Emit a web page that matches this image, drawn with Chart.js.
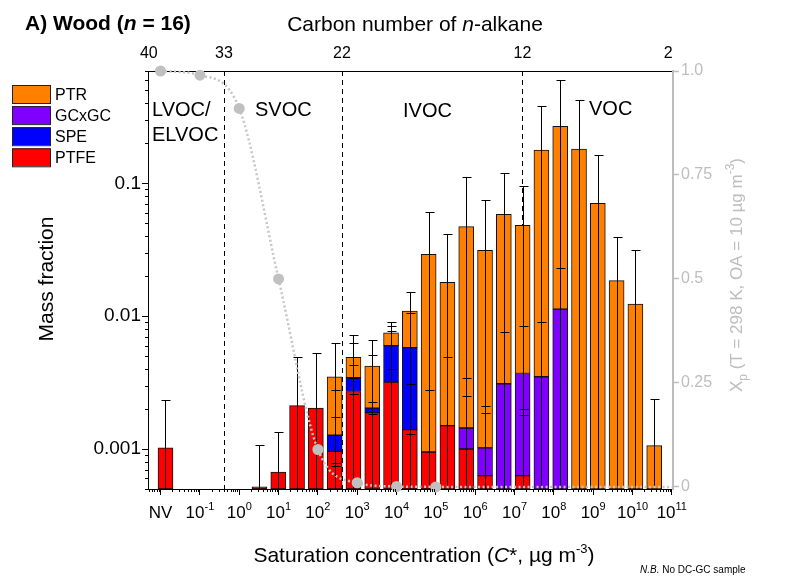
<!DOCTYPE html>
<html>
<head>
<meta charset="utf-8">
<title>A) Wood (n = 16) – mass fraction vs saturation concentration</title>
<script src="https://cdn.jsdelivr.net/npm/chart.js@4.4.1/dist/chart.umd.min.js"></script>
<style>
html,body{margin:0;padding:0;background:#ffffff;}
canvas{display:block;}
</style>
</head>
<body>
<canvas id="chart" width="791" height="582"></canvas>
<script>
// ---------------- DATA ----------------
// 27 volatility bins (index 0 = NV, 1-4 empty), stacked bottom -> top: PTFE, SPE, GCxGC, PTR
// Each array holds the cumulative top (mass fraction) of that layer in the bin; null = layer absent.
const methodNames  = ['PTFE', 'SPE', 'GCxGC', 'PTR'];
const methodColors = ['#FF0000', '#0000FF', '#8000FF', '#FF8000'];
const legendOrder  = ['PTR', 'GCxGC', 'SPE', 'PTFE'];

const ptfeTop  = [0.00102, null, null, null, null, 0.00052, 0.00067, 0.00212, 0.00203, 0.00096,
                  0.00271, 0.00188, 0.00319, 0.0014, 0.00095, 0.0015, 0.0010, 0.00063, null, 0.00063,
                  null, null, null, null, null, null, null];
const speTop   = [null, null, null, null, null, null, null, null, null, 0.00127,
                  0.00345, 0.00203, 0.0060, 0.0058, null, null, null, null, null, null,
                  null, null, null, null, null, null, null];
const gcxgcTop = [null, null, null, null, null, null, null, null, null, null,
                  null, null, null, null, null, null, 0.00144, 0.00102, 0.0031, 0.0037,
                  0.0035, 0.0113, null, null, null, null, null];
const ptrTop   = [null, null, null, null, null, null, null, null, null, 0.0035,
                  0.0049, 0.0042, 0.0075, 0.0109, 0.0292, 0.018, 0.0472, 0.0313, 0.0585, 0.0483,
                  0.178, 0.268, 0.181, 0.0707, 0.0185, 0.0123, 0.00106];
// upper end of the total error bar per bin
const errTop   = [0.00235, null, null, null, null, 0.00108, 0.00134, 0.0049, 0.0053, 0.0063,
                  0.0072, 0.0066, 0.0091, 0.0153, 0.0605, 0.0414, 0.111, 0.0745, 0.119, 0.096,
                  0.38, 0.60, 0.42, 0.163, 0.0397, 0.0313, 0.00238];
// caps of the individual method error bars visible inside the bars
const innerCaps = [[], [], [], [], [], [], [], [], [], [0.0028, 0.00175, 0.00079, 0.00074],
                   [0.0063, 0.0043, 0.0034, 0.0026], [0.0051, 0.00225, 0.00184], [0.0085, 0.0077, 0.0040],
                   [0.0105, 0.0059, 0.0031, 0.0013], [0.0028], [0.0049], [0.0034, 0.0025], [0.0021, 0.00187],
                   [0.0076], [0.0084, 0.0020, 0.0018], [0.009], [0.0229], [], [], [], [], []];

// Bottom axis: log10 of saturation concentration C* (NV placed at the 10^-2 position)
const cStarTickPos    = [-2, -1, 0, 1, 2, 3, 4, 5, 6, 7, 8, 9, 10, 11];
const cStarTickLabels = ['NV', '10^-1', '10^0', '10^1', '10^2', '10^3', '10^4', '10^5', '10^6',
                         '10^7', '10^8', '10^9', '10^10', '10^11'];
// Top axis: carbon number of n-alkane, placed on the log10 C* scale
const carbonLabels = ['40', '33', '22', '12', '2'];
const carbonPos    = [-2.30, -0.39, 2.61, 7.20, 10.91];
const classBoundaryCarbons = ['33', '22', '12'];
const volatilityClasses = ['LVOC/', 'ELVOC', 'SVOC', 'IVOC', 'VOC'];

// Partitioning fraction Xp (T = 298 K, OA = 10 µg m-3) at each decade of C*
const xpLogC   = [-2, -1, 0, 1, 2, 3, 4, 5, 6, 7, 8, 9, 10, 11];
const xpValues = [1.0, 0.99, 0.91, 0.50, 0.09, 0.01, 0.001, 0.0001, 0, 0, 0, 0, 0, 0];
const xpMarked = [true, true, true, true, true, true, true, true, false, false, false, false, false, false];

const massTicks      = [0.001, 0.01, 0.1];
const massTickLabels = ['0.001', '0.01', '0.1'];
const xpTicks        = [0, 0.25, 0.5, 0.75, 1.0];
const xpTickLabels   = ['0', '0.25', '0.5', '0.75', '1.0'];

// ---------------- CHART ----------------
const FONT = '"Liberation Sans", Arial, Helvetica, sans-serif';
Chart.defaults.font.family = FONT;
Chart.defaults.color = '#000000';

const layerTops = [ptfeTop, speTop, gcxgcTop, ptrTop];
const binCount = ptrTop.length;
function buildLayer(li) {
  const tops = layerTops[li];
  const out = [];
  for (let k = 0; k < tops.length; k++) {
    if (tops[k] == null) continue;
    let below = 0;
    for (let j = 0; j < li; j++) {
      const v = layerTops[j][k];
      if (v != null && v > below) below = v;
    }
    out.push({x: k, y: tops[k] - below});
  }
  return out;
}

const barSets = methodNames.map((name, i) => ({
  type: 'bar',
  label: name,
  data: buildLayer(i),
  xAxisID: 'x',
  yAxisID: 'y',
  stack: 'all',
  grouped: false,
  backgroundColor: methodColors[i],
  borderColor: '#111111',
  borderWidth: 1,
  borderSkipped: false,
  barPercentage: 1.0,
  categoryPercentage: 1.0,
  maxBarThickness: 15,
  order: 1
}));

const xpSet = {
  type: 'line',
  label: 'Xp',
  data: xpLogC.map((x, i) => ({x: x, y: xpValues[i]})),
  xAxisID: 'xc',
  yAxisID: 'y2',
  borderColor: '#c6c6c6',
  borderWidth: 2.5,
  borderDash: [2, 2.5],
  pointRadius: xpMarked.map(m => m ? 5.5 : 0),
  pointBackgroundColor: '#c0c0c0',
  pointBorderWidth: 0,
  cubicInterpolationMode: 'monotone',
  fill: false,
  clip: false,
  order: 0
};
const LINE_INDEX = barSets.length;

function fontStr(p) {
  return (p.italic ? 'italic ' : '') + (p.bold ? 'bold ' : '') + p.size + 'px ' + FONT;
}
function drawRich(ctx, parts, x, y, align) {
  let w = 0;
  parts.forEach(p => { ctx.font = fontStr(p); p.w = ctx.measureText(p.t).width; w += p.w; });
  let cx = align === 'center' ? x - w / 2 : x;
  ctx.textAlign = 'left';
  ctx.textBaseline = 'alphabetic';
  parts.forEach(p => { ctx.font = fontStr(p); ctx.fillText(p.t, cx, y + (p.dy || 0)); cx += p.w; });
}

const decor = {
  id: 'decor',
  beforeDatasetsDraw(chart) {
    const {ctx, chartArea} = chart;
    const xt = chart.scales.xt;
    ctx.save();
    ctx.strokeStyle = '#000';
    ctx.lineWidth = 1;
    ctx.setLineDash([5, 4]);
    classBoundaryCarbons.forEach(c => {
      const x = Math.round(xt.getPixelForValue(carbonPos[carbonLabels.indexOf(c)])) + 0.5;
      ctx.beginPath();
      ctx.moveTo(x, chartArea.top);
      ctx.lineTo(x, chartArea.bottom);
      ctx.stroke();
    });
    ctx.restore();
  },
  beforeDatasetDraw(chart, args) {
    if (args.index !== LINE_INDEX) return;
    const {ctx, chartArea} = chart;
    const xs = chart.scales.x, ys = chart.scales.y;
    ctx.save();
    ctx.strokeStyle = '#000';
    ctx.lineWidth = 1;
    const half = 4;
    errTop.forEach((e, k) => {
      if (e == null) return;
      const x = Math.round(xs.getPixelForValue(k)) + 0.5;
      const yt = Math.round(ys.getPixelForValue(e)) + 0.5;
      ctx.beginPath();
      ctx.moveTo(x, chartArea.bottom);
      ctx.lineTo(x, yt);
      ctx.moveTo(x - half, yt);
      ctx.lineTo(x + half + 1, yt);
      (innerCaps[k] || []).forEach(c => {
        const yc = Math.round(ys.getPixelForValue(c)) + 0.5;
        ctx.moveTo(x - half, yc);
        ctx.lineTo(x + half + 1, yc);
      });
      ctx.stroke();
    });
    ctx.restore();
  },
  afterDraw(chart) {
    const {ctx, chartArea} = chart;
    const ys = chart.scales.y, xc = chart.scales.xc;
    ctx.save();
    ctx.fillStyle = '#000';
    ctx.strokeStyle = '#000';
    ctx.lineWidth = 1;

    // minor ticks on the left (log) axis
    ctx.beginPath();
    for (let e = -4; e <= 0; e++) {
      for (let m = 2; m <= 9; m++) {
        const v = m * Math.pow(10, e);
        if (v < ys.min * 0.999 || v > ys.max * 1.001) continue;
        const y = Math.round(ys.getPixelForValue(v)) + 0.5;
        ctx.moveTo(chartArea.left - 3, y);
        ctx.lineTo(chartArea.left, y);
      }
    }
    // minor ticks on the bottom (log C*) axis
    for (let e = -3; e <= 11; e++) {
      for (let m = 2; m <= 9; m++) {
        const p = e + Math.log10(m);
        if (p < xc.min || p > xc.max) continue;
        const x = Math.round(xc.getPixelForValue(p)) + 0.5;
        ctx.moveTo(x, chartArea.bottom);
        ctx.lineTo(x, chartArea.bottom + 3);
      }
    }
    ctx.stroke();

    // bottom tick labels with superscripts
    cStarTickLabels.forEach((lab, i) => {
      const x = xc.getPixelForValue(cStarTickPos[i]);
      const parts = lab.indexOf('^') >= 0
        ? [{t: lab.split('^')[0], size: 17}, {t: lab.split('^')[1], size: 11, dy: -8}]
        : [{t: lab, size: 17}];
      drawRich(ctx, parts, x, 518, 'center');
    });

    // volatility class labels
    ctx.fillStyle = '#000';
    drawRich(ctx, [{t: volatilityClasses[0], size: 20}], 152, 116, 'left');
    drawRich(ctx, [{t: volatilityClasses[1], size: 20}], 152, 141, 'left');
    drawRich(ctx, [{t: volatilityClasses[2], size: 20}], 255, 116, 'left');
    drawRich(ctx, [{t: volatilityClasses[3], size: 20}], 403, 117, 'left');
    drawRich(ctx, [{t: volatilityClasses[4], size: 20}], 589, 115, 'left');

    // panel title
    drawRich(ctx, [{t: 'A) Wood (', size: 21, bold: true}, {t: 'n', size: 21, bold: true, italic: true},
                   {t: ' = 16)', size: 21, bold: true}], 25, 30, 'left');
    // top axis title
    drawRich(ctx, [{t: 'Carbon number of ', size: 21}, {t: 'n', size: 21, italic: true},
                   {t: '-alkane', size: 21}], 415, 31, 'center');
    // bottom axis title
    drawRich(ctx, [{t: 'Saturation concentration (', size: 21}, {t: 'C', size: 21, italic: true},
                   {t: '*, \u00B5g m', size: 21}, {t: '-3', size: 13, dy: -9}, {t: ')', size: 21}],
             424, 562, 'center');
    // note
    drawRich(ctx, [{t: 'N.B.', size: 10, italic: true}, {t: ' No DC-GC sample', size: 10}], 640, 573, 'left');

    // left axis title
    ctx.save();
    ctx.translate(53, 279);
    ctx.rotate(-Math.PI / 2);
    drawRich(ctx, [{t: 'Mass fraction', size: 21}], 0, 0, 'center');
    ctx.restore();

    // right axis title
    ctx.save();
    ctx.fillStyle = '#bdbdbd';
    ctx.translate(742, 275);
    ctx.rotate(-Math.PI / 2);
    drawRich(ctx, [{t: 'X', size: 17}, {t: 'p', size: 12, dy: 5},
                   {t: ' (T = 298 K, OA = 10 \u00B5g m', size: 17}, {t: '-3', size: 12, dy: -8},
                   {t: ')', size: 17}], 0, 0, 'center');
    ctx.restore();

    // legend
    legendOrder.forEach((name, i) => {
      const idx = methodNames.indexOf(name);
      const top = 85 + i * 21.1;
      ctx.fillStyle = methodColors[idx];
      ctx.fillRect(12.5, top, 38, 18);
      ctx.strokeStyle = '#222';
      ctx.strokeRect(12.5, top + 0.5, 38, 18);
      ctx.fillStyle = '#000';
      drawRich(ctx, [{t: name, size: 16}], 55, top + 15, 'left');
    });
    ctx.restore();
  }
};

new Chart(document.getElementById('chart'), {
  data: {datasets: [...barSets, xpSet]},
  options: {
    responsive: false,
    animation: false,
    layout: {padding: 0},
    plugins: {legend: {display: false}, tooltip: {enabled: false}, title: {display: false}},
    scales: {
      x: {
        type: 'linear', display: false, min: -0.93, max: 27.0, stacked: true, offset: false,
        afterBuildTicks(s) { s.ticks = ptrTop.map((_, k) => ({value: k})); }
      },
      xc: {
        type: 'linear', position: 'bottom', min: -2.32, max: 11.03,
        afterFit(s) { s.height = 93; },
        afterBuildTicks(s) { s.ticks = cStarTickPos.map(v => ({value: v})); },
        ticks: {callback: () => '', autoSkip: false, maxRotation: 0, padding: 0},
        grid: {display: true, drawOnChartArea: false, drawTicks: true, tickLength: 6, tickColor: '#000', tickWidth: 1},
        border: {display: true, color: '#000', width: 1}
      },
      xt: {
        type: 'linear', position: 'top', min: -2.32, max: 11.03,
        afterFit(s) { s.height = 71; },
        afterBuildTicks(s) { s.ticks = carbonPos.map(v => ({value: v})); },
        ticks: {callback: (v, i) => carbonLabels[i], autoSkip: false, maxRotation: 0, padding: 8,
                font: {size: 16}, color: '#000'},
        grid: {display: false, drawTicks: false},
        border: {display: true, color: '#000', width: 1}
      },
      y: {
        type: 'logarithmic', position: 'left', min: 0.0005, max: 0.7, stacked: true,
        afterFit(s) { s.width = 148; },
        afterBuildTicks(s) { s.ticks = massTicks.map(v => ({value: v})); },
        ticks: {callback: (v, i) => massTickLabels[i], autoSkip: false, padding: 1, font: {size: 19}, color: '#000'},
        grid: {display: true, drawOnChartArea: false, drawTicks: true, tickLength: 6, tickColor: '#000', tickWidth: 1},
        border: {display: true, color: '#000', width: 1}
      },
      y2: {
        type: 'linear', position: 'right', min: -0.005, max: 1.0,
        afterFit(s) { s.width = 118; },
        afterBuildTicks(s) { s.ticks = xpTicks.map(v => ({value: v})); },
        ticks: {callback: (v, i) => xpTickLabels[i], autoSkip: false, padding: 2, font: {size: 16}, color: '#bdbdbd'},
        grid: {display: true, drawOnChartArea: false, drawTicks: true, tickLength: 6, tickColor: '#bdbdbd', tickWidth: 1.5},
        border: {display: true, color: '#bdbdbd', width: 2}
      }
    }
  },
  plugins: [decor]
});
</script>
</body>
</html>
